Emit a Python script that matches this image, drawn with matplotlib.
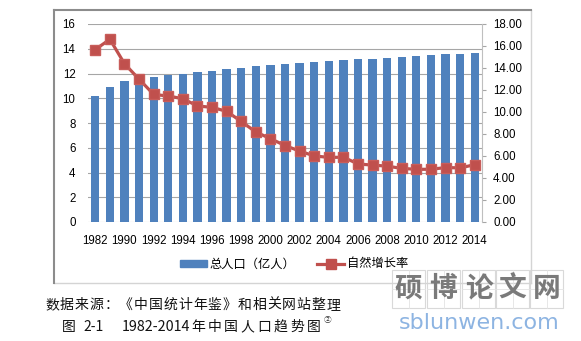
#!/usr/bin/env python3
import matplotlib
matplotlib.use('Agg')
import matplotlib.pyplot as plt
from matplotlib.lines import Line2D
from matplotlib.patches import Rectangle

# China total population (100 million) and natural growth rate (per mille)
years = ['1982', '1987'] + [str(y) for y in range(1990, 2015)]
population = [10.17, 10.93, 11.43, 11.58, 11.72, 11.85, 11.99, 12.11, 12.24,
              12.36, 12.48, 12.58, 12.67, 12.76, 12.85, 12.92, 12.99, 13.08,
              13.14, 13.21, 13.28, 13.35, 13.41, 13.47, 13.54, 13.61, 13.68]
growth = [15.68, 16.61, 14.39, 12.98, 11.60, 11.45, 11.21, 10.55, 10.42,
          10.06, 9.14, 8.18, 7.58, 6.95, 6.45, 6.01, 5.87, 5.89, 5.28, 5.17,
          5.08, 4.87, 4.79, 4.79, 4.95, 4.92, 5.21]
left_ticks = list(range(0, 17, 2))
right_ticks = list(range(0, 19, 2))
legend_labels = ['总人口（亿人）', '自然增长率']
source_note = '数据来源：《中国统计年鉴》和相关网站整理'
fig_caption = ['图', '2-1', '1982-2014', '年中国人口趋势图']

CJK = ['Noto Sans CJK SC', 'DejaVu Sans']
NUM = 'Liberation Sans'
BLUE = '#4F81BD'
RED = '#C0504D'
W, H = 581, 341


def fx(px):
    return px / W


def fy(py):
    return 1 - py / H


def spaced_text(fig, s, left, pitch, y, size):
    # draw characters one by one at a fixed pitch (letter-spaced text)
    for i, ch in enumerate(s):
        fig.text(fx(left + i * pitch), fy(y), ch, family=CJK, fontsize=size,
                 va='center', ha='left', color='#111111')


fig = plt.figure(figsize=(W / 100, H / 100), dpi=100)
fig.patch.set_facecolor('white')

# chart frame: darker top/left edge, light right/bottom edge
x0, x1, y0, y1 = fx(54), fx(531), fy(10), fy(283)
fig.add_artist(Line2D([x0, x1], [y1, y1], color='#d4d4d4', lw=1.0, transform=fig.transFigure))
fig.add_artist(Line2D([x1, x1], [y0, y1], color='#d4d4d4', lw=1.0, transform=fig.transFigure))
fig.add_artist(Line2D([x0, x1], [y0, y0], color='#8c8c8c', lw=1.5, transform=fig.transFigure))
fig.add_artist(Line2D([x0, x0], [y0, y1], color='#8c8c8c', lw=1.5, transform=fig.transFigure))

ax = fig.add_axes([fx(88), fy(222), fx(482) - fx(88), fy(24) - fy(222)])
x = list(range(len(years)))
ax.bar(x, population, width=0.57, color=BLUE, zorder=2)
ax.set_xlim(-0.5, len(years) - 0.5)
ax.set_ylim(0, 16)
ax.set_yticks(left_ticks)
ax.set_yticklabels([str(t) for t in left_ticks], fontfamily=NUM, fontsize=8.3)
ax.set_xticks(x[::2])
ax.set_xticklabels(years[::2], fontfamily=NUM, fontsize=8.3)
ax.tick_params(axis='both', length=0)
ax.tick_params(axis='y', pad=9)
ax.tick_params(axis='x', pad=9)
ax.yaxis.grid(True, color='#a6a6a6', lw=0.8, zorder=0)
ax.set_axisbelow(True)
for s in ax.spines.values():
    s.set_visible(False)

ax2 = ax.twinx()
ax2.plot(x, growth, color=RED, lw=2.3, marker='s', markersize=7.5,
         markerfacecolor=RED, markeredgecolor='#c85d5a', zorder=3)
ax2.set_ylim(0, 18)
ax2.set_yticks(right_ticks)
ax2.set_yticklabels([f'{t:.2f}' for t in right_ticks], fontfamily=NUM, fontsize=8.3)
ax2.tick_params(axis='y', length=3, color='#a6a6a6', pad=5)
for k, s in ax2.spines.items():
    s.set_visible(k == 'right')
ax2.spines['right'].set_color('#bfbfbf')
ax2.spines['right'].set_linewidth(0.8)

handles = [Rectangle((0, 0), 1, 1, color=BLUE),
           Line2D([], [], color=RED, lw=2.3, marker='s', markersize=7.5)]
fig.legend(handles, legend_labels, loc='center',
           bbox_to_anchor=(fx(294), fy(264)), ncol=2, frameon=False,
           prop={'family': CJK, 'size': 8.8}, handlelength=2.2,
           handletextpad=0.2, columnspacing=1.8, handleheight=0.5)

# captions below the chart
spaced_text(fig, source_note, 45, 14.8, 305, 10)
fig.text(fx(62), fy(327), fig_caption[0], family=CJK, fontsize=10,
         va='center', ha='left', color='#111111')
fig.text(fx(83), fy(327), fig_caption[1], family=CJK, fontsize=10,
         va='center', ha='left', color='#111111')
fig.text(fx(122), fy(327), fig_caption[2], family=CJK, fontsize=10.3,
         va='center', ha='left', color='#111111')
spaced_text(fig, fig_caption[3], 191, 16.5, 327, 10)
fig.text(fx(324), fy(320), '②', family=CJK, fontsize=5.5,
         va='center', ha='left', color='#333333')

# site watermark: characters in grid boxes, url below
marks = '硕博论文网'
bx = [392, 427, 462, 496, 530]
for ch, left in zip(marks, bx):
    r = Rectangle((fx(left), fy(308)), fx(33), fy(270) - fy(308),
                  transform=fig.transFigure, fill=False, ec='#d9d9d9', lw=0.8)
    fig.add_artist(r)
    cxp = left + 16.5
    fig.add_artist(Line2D([fx(cxp), fx(cxp)], [fy(270), fy(308)], color='#e3e3e3',
                          lw=0.6, transform=fig.transFigure))
    fig.add_artist(Line2D([fx(left), fx(left + 33)], [fy(289), fy(289)], color='#e3e3e3',
                          lw=0.6, transform=fig.transFigure))
    fig.text(fx(cxp), fy(289), ch, family=CJK, fontsize=20, fontweight='bold',
             color='#7a7a7a', ha='center', va='center')
fig.text(fx(399), fy(323), 'sblunwen.com', family='DejaVu Sans', fontsize=16,
         color='#8db4e2', ha='left', va='center')

fig.savefig('out.png', dpi=100, facecolor='white')
